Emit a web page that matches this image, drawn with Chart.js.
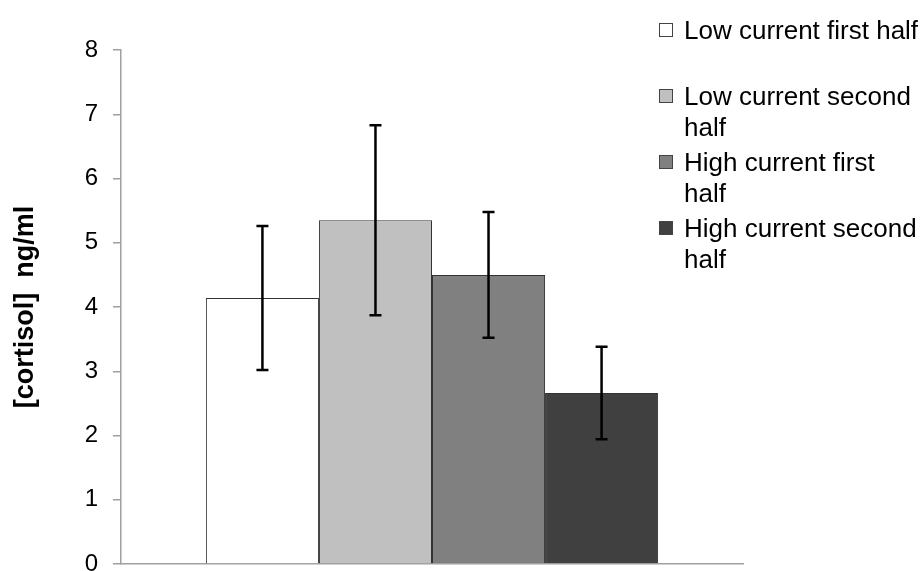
<!DOCTYPE html>
<html>
<head>
<meta charset="utf-8">
<script src="https://cdn.jsdelivr.net/npm/chart.js@4"></script>
<style>
    body { margin: 0; background: #fff; }
    #wrap { position: relative; width: 924px; height: 571px; overflow: hidden; }
    #legend {
        position: absolute; left: 659px; top: 15px;
        font-family: "Liberation Sans", Arial, sans-serif; font-size: 26px; color: #000;
    }
    .item { display: flex; align-items: flex-start; margin-bottom: 4px; }
    .box { width: 12px; height: 12px; border: 1px solid #444; margin-top: 8px; margin-right: 11px; flex: none; }
    .line { height: 31px; line-height: 31px; white-space: nowrap; }
</style>
</head>
<body>
<div id="wrap">
    <canvas id="statChart" width="924" height="571"></canvas>
    <div id="legend"></div>
</div>
<script>
// data
const groupLabels = [''];
const seriesLines = [
    ['Low current first half', ''],
    ['Low current second', 'half'],
    ['High current first', 'half'],
    ['High current second', 'half']
];
const cortisolMeans = [4.14, 5.35, 4.50, 2.66];
const cortisolErrors = [1.12, 1.48, 0.98, 0.72];
const yTicks = [0, 1, 2, 3, 4, 5, 6, 7, 8];

const barColors = ['#ffffff', '#c0c0c0', '#808080', '#404040'];

// error bars drawn through the y scale
const errorBars = {
    id: 'errorBars',
    afterDatasetsDraw(chart) {
        const ctx = chart.ctx;
        const y = chart.scales.y;
        ctx.save();
        ctx.strokeStyle = '#000';
        ctx.lineWidth = 2.5;
        chart.data.datasets.forEach((ds, i) => {
            const bar = chart.getDatasetMeta(i).data[0];
            const top = y.getPixelForValue(ds.data[0] + ds.errors[0]);
            const bot = y.getPixelForValue(ds.data[0] - ds.errors[0]);
            ctx.beginPath();
            ctx.moveTo(bar.x, top); ctx.lineTo(bar.x, bot);
            ctx.moveTo(bar.x - 6, top); ctx.lineTo(bar.x + 6, top);
            ctx.moveTo(bar.x - 6, bot); ctx.lineTo(bar.x + 6, bot);
            ctx.stroke();
        });
        ctx.restore();
    }
};

function renderChart() {
    const ctx = document.getElementById('statChart');

    new Chart(ctx, {
        type: 'bar',
        data: {
            labels: groupLabels,
            datasets: seriesLines.map((lines, i) => ({
                label: lines.join(' ').trim(),
                data: [cortisolMeans[i]],
                errors: [cortisolErrors[i]],
                backgroundColor: barColors[i],
                borderColor: '#333',
                borderWidth: 1,
                categoryPercentage: 0.727,
                barPercentage: 1
            }))
        },
        options: {
            responsive: false,
            animation: false,
            layout: { padding: { left: 0, right: 181, top: 50, bottom: 0 } },
            plugins: {
                legend: { display: false },
                tooltip: { enabled: false }
            },
            scales: {
                x: {
                    grid: { display: false },
                    border: { color: '#a0a0a0', width: 1.5 },
                    ticks: { display: false },
                    afterFit(scale) { scale.height = 7; }
                },
                y: {
                    min: 0,
                    max: 8,
                    afterBuildTicks(scale) { scale.ticks = yTicks.map(v => ({ value: v })); },
                    grid: { drawOnChartArea: false, drawTicks: true, tickLength: 8, color: '#a0a0a0', lineWidth: 1.5 },
                    border: { color: '#a0a0a0', width: 1.5 },
                    ticks: {
                        color: '#000',
                        padding: 15,
                        font: { family: '"Liberation Sans", Arial, sans-serif', size: 24 }
                    },
                    title: {
                        display: true,
                        text: '[cortisol]  ng/ml',
                        color: '#000',
                        padding: { top: 9, bottom: 0 },
                        font: { family: '"Liberation Sans", Arial, sans-serif', size: 27, weight: 'bold' }
                    },
                    afterFit(scale) {
                        scale.width = 121;
                        // let the 0 label run off the bottom like the original
                        scale.paddingTop = 0;
                        scale.paddingBottom = 0;
                    }
                }
            }
        },
        plugins: [errorBars]
    });

    // legend as html, two lines per entry like the original
    const legend = document.getElementById('legend');
    seriesLines.forEach((lines, i) => {
        const item = document.createElement('div');
        item.className = 'item';
        const box = document.createElement('div');
        box.className = 'box';
        box.style.background = barColors[i];
        const txt = document.createElement('div');
        lines.forEach(l => {
            const row = document.createElement('div');
            row.className = 'line';
            row.textContent = l;
            txt.appendChild(row);
        });
        item.appendChild(box);
        item.appendChild(txt);
        legend.appendChild(item);
    });
}

renderChart();
</script>
</body>
</html>
